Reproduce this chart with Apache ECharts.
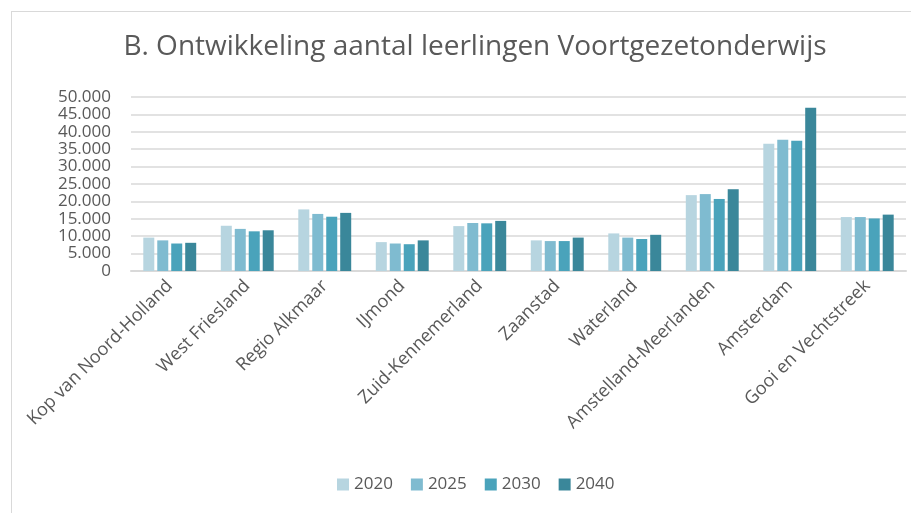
<!DOCTYPE html>
<html>
<head>
<meta charset="utf-8">
<script src="https://cdn.jsdelivr.net/npm/echarts@6/dist/echarts.min.js"></script>
<style>
  html, body { margin: 0; padding: 0; background: #fff; }
  #frame { position: absolute; left: 11px; top: 11px; width: 910px; height: 510px; border: 1px solid #d9d9d9; box-sizing: border-box; }
  #chart { position: absolute; left: 0; top: 0; width: 911px; height: 513px; }
</style>
</head>
<body>
<div id="frame"></div>
<div id="chart"></div>
<script>
const regions = ['Kop van Noord-Holland', 'West Friesland', 'Regio Alkmaar', 'IJmond', 'Zuid-Kennemerland',
  'Zaanstad', 'Waterland', 'Amstelland-Meerlanden', 'Amsterdam', 'Gooi en Vechtstreek']
const years = ['2020', '2025', '2030', '2040']
const v2020 = [9600, 13000, 17700, 8300, 12900, 8800, 10800, 21800, 36600, 15500]
const v2025 = [8800, 12100, 16400, 7900, 13800, 8600, 9600, 22100, 37700, 15500]
const v2030 = [7900, 11400, 15600, 7700, 13700, 8600, 9200, 20700, 37400, 15100]
const v2040 = [8100, 11700, 16700, 8800, 14400, 9600, 10400, 23500, 46900, 16200]
const colors = ['#b7d5e0', '#7fbbd0', '#4aa3bb', '#3a879a']

const chart = echarts.init(document.getElementById('chart'))
const font = "'Open Sans', sans-serif"
chart.setOption({
  animation: false,
  color: colors,
  title: {
    text: 'B. Ontwikkeling aantal leerlingen Voortgezetonderwijs',
    left: 470,
    textAlign: 'center',
    top: 28,
    textStyle: { fontFamily: font, fontWeight: 'normal', fontSize: 28, color: '#595959' }
  },
  legend: {
    top: 471,
    left: 332,
    itemWidth: 12,
    itemHeight: 12,
    itemGap: 18,
    icon: 'rect',
    data: years,
    textStyle: { fontFamily: font, fontSize: 17, color: '#595959' }
  },
  grid: { left: 131, right: 5, top: 97, bottom: 242 },
  xAxis: {
    type: 'category',
    data: regions,
    axisLine: { lineStyle: { color: '#d9d9d9', width: 2 } },
    axisTick: { show: false },
    axisLabel: {
      interval: 0,
      rotate: 45,
      margin: 12,
      fontFamily: font,
      fontSize: 18,
      color: '#595959'
    }
  },
  yAxis: {
    type: 'value',
    min: 0,
    max: 50000,
    interval: 5000,
    axisLine: { show: false },
    axisTick: { show: false },
    splitLine: { lineStyle: { color: '#d9d9d9', width: 1.5 } },
    axisLabel: {
      margin: 20,
      fontFamily: font,
      fontSize: 17,
      color: '#595959',
      showMinLabel: true,
      showMaxLabel: true,
      formatter: v => v === 0 ? '0' : v.toLocaleString('nl-NL')
    }
  },
  series: [v2020, v2025, v2030, v2040].map((d, i) => ({
    name: years[i],
    type: 'bar',
    data: d,
    barWidth: 11,
    barGap: '27%',
    itemStyle: { color: colors[i] }
  }))
})
</script>
</body>
</html>
